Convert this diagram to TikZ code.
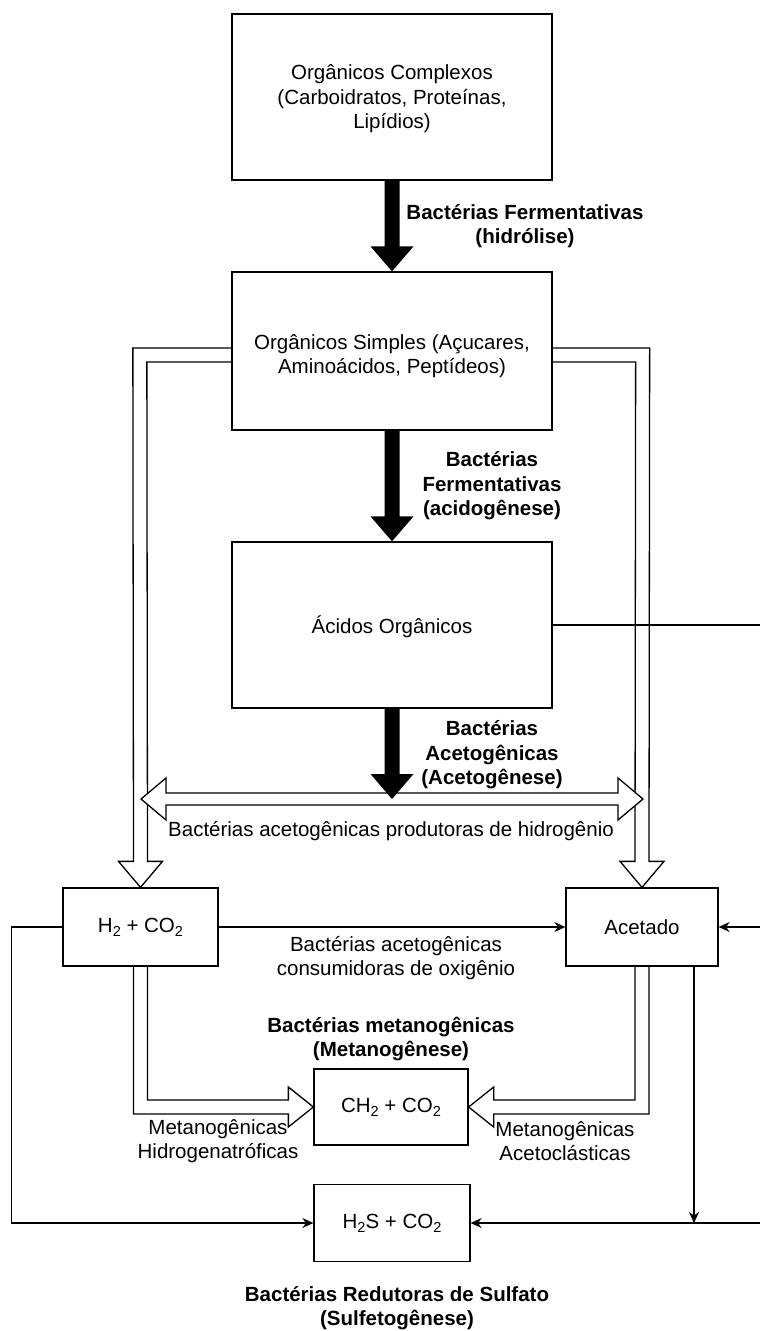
\documentclass[tikz,border=0pt]{standalone}
\usepackage{fontspec}
\setmainfont{Liberation Sans}
\usetikzlibrary{arrows.meta,calc}
\newcommand\dn[1]{\raisebox{-0.35ex}{\fontsize{14.5}{14.5}\selectfont #1}}
\newcommand\blkarrow[2]{\fill[black] ([xshift=-7.5]#1) -- ([shift={(-7.5,-25)}]#2) -- ([shift={(-21.5,-25)}]#2) -- (#2) -- ([shift={(21.5,-25)}]#2) -- ([shift={(7.5,-25)}]#2) -- ([xshift=7.5]#1) -- cycle;}
\begin{document}
\begin{tikzpicture}[x=1pt,y=-1pt,
  box/.style={draw, line width=1.3pt, inner sep=0pt, align=center, font=\fontsize{20.5}{24.5}\selectfont},
  lbl/.style={align=center, inner sep=0pt, font=\fontsize{20.5}{24.5}\selectfont},
  blbl/.style={align=center, inner sep=0pt, font=\fontsize{20.5}{24.5}\selectfont\bfseries},
  conn/.style={line width=1.3pt, -{Stealth[length=11pt,width=10pt]}},
  hollow/.style={draw, line width=1.3pt, line join=miter}
]
\useasboundingbox (0,0) rectangle (760,1331);

% boxes
\node[box, minimum width=320pt, minimum height=166pt, label={[lbl,yshift=-2pt]center:{Orgânicos Complexos\\(Carboidratos, Proteínas,\\Lipídios)}}] (b1) at (392,97) {};
\node[box, minimum width=320pt, minimum height=158pt, label={[lbl,yshift=-5pt]center:{Orgânicos Simples (Açucares,\\Aminoácidos, Peptídeos)}}] (b2) at (392,351) {};
\node[box, minimum width=320pt, minimum height=166pt, label={[lbl,yshift=-2pt]center:{Ácidos Orgânicos}}] (b3) at (392,625) {};
\node[box, minimum width=155pt, minimum height=78pt] (h2) at (140.5,927) {H\dn{2} + CO\dn{2}};
\node[box, minimum width=152pt, minimum height=78pt] (ac) at (642,927) {Acetado};
\node[box, minimum width=154pt, minimum height=76pt] (ch) at (391,1107) {CH\dn{2} + CO\dn{2}};
\node[box, minimum width=156pt, minimum height=77pt] (hs) at (392,1223) {H\dn{2}S + CO\dn{2}};

\coordinate (dl) at (141,799);
\coordinate (dr) at (643,799);
\coordinate (dc) at (392,799);
\coordinate (re) at (775,625);
\coordinate (rb) at (775,1223);

% hollow arrows from b2
\draw[hollow] ([shift={(0,-3)}]b2.west) -- ([shift={(-98.5,-3)}]b2.west) -- ([shift={(-7,-26)}]h2.north) -- ([shift={(-22,-26)}]h2.north) -- (h2.north) -- ([shift={(22,-26)}]h2.north) -- ([shift={(7,-26)}]h2.north) -- ([shift={(-84.5,11)}]b2.west) -- ([shift={(0,11)}]b2.west);
\draw[hollow] ([shift={(0,-3)}]b2.east) -- ([shift={(97,-3)}]b2.east) -- ([shift={(7,-26)}]ac.north) -- ([shift={(22,-26)}]ac.north) -- (ac.north) -- ([shift={(-22,-26)}]ac.north) -- ([shift={(-7,-26)}]ac.north) -- ([shift={(83,11)}]b2.east) -- ([shift={(0,11)}]b2.east);

% double arrow
\draw[hollow, fill=white] (dl) -- ([shift={(25,-21)}]dl) -- ([shift={(25,-6)}]dl) -- ([shift={(-25,-6)}]dr) -- ([shift={(-25,-21)}]dr) -- (dr) -- ([shift={(-25,21)}]dr) -- ([shift={(-25,6)}]dr) -- ([shift={(25,6)}]dl) -- ([shift={(25,21)}]dl) -- cycle;

% black arrows
\blkarrow{b1.south}{b2.north}
\blkarrow{b2.south}{b3.north}
\blkarrow{b3.south}{dc}

% hollow arrows to CH2
\draw[hollow] ([xshift=-7]h2.south) |- ([shift={(-25,7)}]ch.west) -- ([shift={(-25,20)}]ch.west) -- (ch.west) -- ([shift={(-25,-20)}]ch.west) -- ([shift={(-25,-7)}]ch.west) -| ([xshift=7]h2.south);
\draw[hollow] ([xshift=7]ac.south) |- ([shift={(25,7)}]ch.east) -- ([shift={(25,20)}]ch.east) -- (ch.east) -- ([shift={(25,-20)}]ch.east) -- ([shift={(25,-7)}]ch.east) -| ([xshift=-7]ac.south);

% thin connectors
\draw[conn] (h2.east) -- (ac.west);
\draw[conn] (h2.west) -- ++(-51,0) |- (hs.west);
\draw[conn] (b3.east) -- (re) |- (ac.east);
\draw[conn] (rb) -- (hs.east);
\draw[conn] ([xshift=52]ac.south) -- ([xshift=52]ac.south |- hs.east);

% labels
\node[blbl] (l1) at (525,226) {Bactérias Fermentativas\\(hidrólise)};
\node[blbl] (l2) at (492,486) {Bactérias\\Fermentativas\\(acidogênese)};
\node[blbl] (l3) at (492,755) {Bactérias\\Acetogênicas\\(Acetogênese)};
\node[lbl] (l4) at (391,831) {Bactérias acetogênicas produtoras de hidrogênio};
\node[lbl] (l5) at (396,958) {Bactérias acetogênicas\\consumidoras de oxigênio};
\node[blbl] (l6) at (391,1039) {Bactérias metanogênicas\\(Metanogênese)};
\node[lbl] (l7) at (218,1141) {Metanogênicas\\Hidrogenatróficas};
\node[lbl] (l8) at (565,1141) {Metanogênicas\\Acetoclásticas};
\node[blbl] (l9) at (397,1308) {Bactérias Redutoras de Sulfato\\(Sulfetogênese)};
\end{tikzpicture}
\end{document}
